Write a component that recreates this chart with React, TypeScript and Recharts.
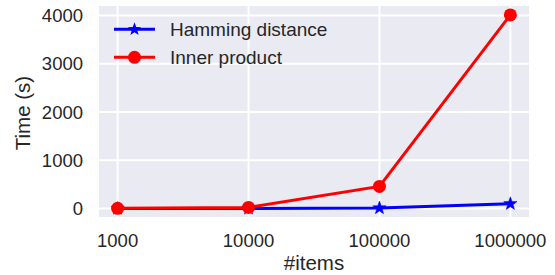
import React from 'react';
import { LineChart, Line, XAxis, YAxis, CartesianGrid, Legend, Label } from 'recharts';

const categories = ['1000', '10000', '100000', '1000000'];
const hammingTimes = [1, 3, 12, 100];
const innerTimes = [5, 25, 460, 4015];
const yTicks = [0, 1000, 2000, 3000, 4000];

const data = categories.map((c, i) => ({
  idx: i,
  label: c,
  hamming: hammingTimes[i],
  inner: innerTimes[i],
}));

const FONT = '"Liberation Sans", Arial, Helvetica, sans-serif';
const TEXT = '#262626';
const BLUE = '#0000FF';
const RED = '#FF0000';

function starPoints(cx: number, cy: number, outer: number, inner: number) {
  const pts: string[] = [];
  for (let k = 0; k < 10; k++) {
    const r = k % 2 === 0 ? outer : inner;
    const a = -Math.PI / 2 + (k * Math.PI) / 5;
    pts.push(`${cx + r * Math.cos(a)},${cy + r * Math.sin(a)}`);
  }
  return pts.join(' ');
}

const StarDot = (props: any) => {
  const { cx, cy, index } = props;
  if (cx == null || cy == null) return null;
  return <polygon key={`s${index}`} points={starPoints(cx, cy, 7, 2.9)} fill={BLUE} stroke={BLUE} strokeWidth={0.5} />;
};

const CircleDot = (props: any) => {
  const { cx, cy, index } = props;
  if (cx == null || cy == null) return null;
  return <circle key={`c${index}`} cx={cx} cy={cy} r={6.5} fill={RED} stroke={RED} strokeWidth={0} />;
};

const LegendContent = () => (
  <svg width={240} height={60} style={{ display: 'block' }}>
    <line x1={9} y1={17.3} x2={50} y2={17.3} stroke={BLUE} strokeWidth={3} />
    <polygon points={starPoints(29.5, 17.3, 7, 2.9)} fill={BLUE} />
    <text x={65} y={24} fontSize={19} fill={TEXT} fontFamily={FONT}>Hamming distance</text>
    <line x1={9} y1={45.3} x2={50} y2={45.3} stroke={RED} strokeWidth={3} />
    <circle cx={29.5} cy={45.3} r={6.5} fill={RED} />
    <text x={65} y={52} fontSize={19} fill={TEXT} fontFamily={FONT}>Inner product</text>
  </svg>
);

const XLabel = (props: any) => {
  const vb = props.viewBox || {};
  return (
    <text x={vb.x + vb.width / 2} y={vb.y + 51.7} textAnchor="middle" fontSize={20.5} fill={TEXT} fontFamily={FONT}>
      #items
    </text>
  );
};

const YLabel = (props: any) => {
  const vb = props.viewBox || {};
  const cx = vb.x + 22;
  const cy = vb.y + vb.height / 2 + 1.5;
  return (
    <text
      x={cx}
      y={cy}
      transform={`rotate(-90 ${cx} ${cy})`}
      textAnchor="middle"
      dominantBaseline="central"
      fontSize={20.5}
      fill={TEXT}
      fontFamily={FONT}
    >
      Time (s)
    </text>
  );
};

export default function App() {
  return (
    <div style={{ position: 'absolute', left: 0, top: 0, width: 555, height: 275, background: '#fff' }}>
      <LineChart width={555} height={275} data={data} margin={{ top: 5, right: 25, bottom: 0, left: 0 }}>
        <CartesianGrid fill="#EAEAF2" stroke="#FFFFFF" strokeWidth={2} />
        <XAxis
          dataKey="idx"
          type="number"
          domain={[-0.15, 3.15]}
          ticks={[0, 1, 2, 3]}
          tickFormatter={(v: number) => categories[v] ?? ''}
          allowDataOverflow
          height={57}
          axisLine={false}
          tickLine={false}
          tickSize={0}
          tickMargin={15.5}
          tick={{ fontSize: 18.5, fill: TEXT, fontFamily: FONT }}
          interval={0}
        >
          <Label content={<XLabel />} />
        </XAxis>
        <YAxis
          type="number"
          domain={[-195, 4220]}
          ticks={yTicks}
          allowDataOverflow
          width={98}
          axisLine={false}
          tickLine={false}
          tickSize={0}
          tickMargin={15}
          tick={{ fontSize: 18.5, fill: TEXT, fontFamily: FONT }}
          interval={0}
        >
          <Label content={<YLabel />} />
        </YAxis>
        <Legend
          layout="vertical"
          align="center"
          verticalAlign="middle"
          content={<LegendContent />}
          wrapperStyle={{ left: 105, top: 12, width: 240, height: 60 }}
        />
        <Line
          type="linear"
          dataKey="hamming"
          name="Hamming distance"
          stroke={BLUE}
          strokeWidth={3}
          dot={<StarDot />}
          activeDot={false}
          isAnimationActive={false}
        />
        <Line
          type="linear"
          dataKey="inner"
          name="Inner product"
          stroke={RED}
          strokeWidth={3}
          dot={<CircleDot />}
          activeDot={false}
          isAnimationActive={false}
        />
      </LineChart>
    </div>
  );
}
